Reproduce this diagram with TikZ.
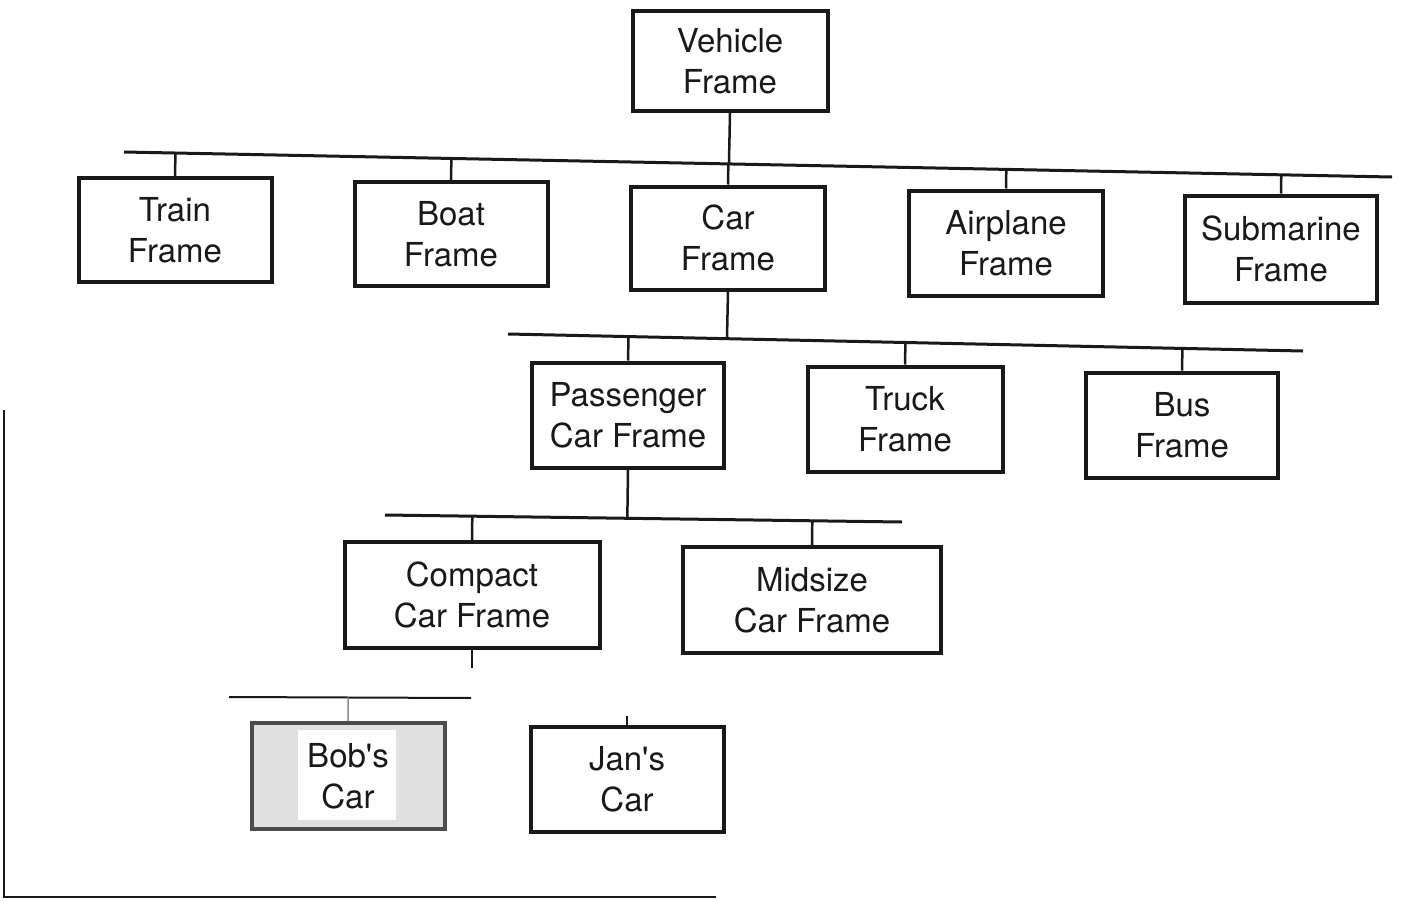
\documentclass[tikz,border=0pt]{standalone}
\usepackage{fontspec}
\setmainfont{TeX Gyre Heros}
\usetikzlibrary{calc}
\tikzset{
  box/.style={draw=black!90, line width=4pt, fill=white, align=center, inner sep=0pt,
    font=\fontsize{33}{41}\selectfont, text=black!90},
  busline/.style={draw=black!90, line width=3pt},
  stem/.style={draw=black!90, line width=2.5pt},
}
\begin{document}
\begin{tikzpicture}[x=1pt,y=-1pt]
\useasboundingbox (0,0) rectangle (1406,900);
% outer frame lines (left and bottom)
\coordinate (fl) at (4,410);
\coordinate (fc) at (4,897);
\coordinate (fr) at (716,897);
\draw[line width=2.5pt, black!90] (fl) -- (fc) -- (fr);
% bus lines
\coordinate (b1l) at (124,152); \coordinate (b1r) at (1392,177);
\coordinate (b2l) at (508,334); \coordinate (b2r) at (1303,351);
\coordinate (b3l) at (385,515); \coordinate (b3r) at (902,522);
\coordinate (b4l) at (229,697); \coordinate (b4r) at (471,698);
\draw[busline] (b1l) -- (b1r);
\draw[busline] (b2l) -- (b2r);
\draw[busline] (b3l) -- (b3r);
\draw[busline, line width=2pt] (b4l) -- (b4r);
% nodes
\node[box, minimum width=195pt, minimum height=100pt] (vehicle) at (730,61) {Vehicle\\Frame};
\node[box, minimum width=193pt, minimum height=104pt] (train) at (175,230) {Train\\Frame};
\node[box, minimum width=193pt, minimum height=104pt] (boat) at (451,234) {Boat\\Frame};
\node[box, minimum width=194pt, minimum height=103pt] (car) at (728,238) {Car\\Frame};
\node[box, minimum width=194pt, minimum height=105pt] (airplane) at (1006,243) {Airplane\\Frame};
\node[box, minimum width=192pt, minimum height=107pt] (submarine) at (1281,249) {Submarine\\Frame};
\node[box, minimum width=192pt, minimum height=105pt] (passenger) at (628,415) {Passenger\\Car Frame};
\node[box, minimum width=195pt, minimum height=105pt] (truck) at (905,419) {Truck\\Frame};
\node[box, minimum width=192pt, minimum height=105pt] (bus) at (1182,425) {Bus\\Frame};
\node[box, minimum width=255pt, minimum height=106pt] (compact) at (472,595) {Compact\\Car Frame};
\node[box, minimum width=258pt, minimum height=106pt] (midsize) at (812,600) {Midsize\\Car Frame};
\node[box, draw=black!70, fill=black!12, minimum width=193pt, minimum height=106pt] (bob) at (348,776) {};
\node[fill=white, minimum width=98pt, minimum height=90pt, inner sep=0pt] (bobtext) at (347,775)
  {};
\node[align=center, font=\fontsize{33}{41}\selectfont, text=black!90] (boblabel) at (bob.center) {Bob\textquotesingle s\\Car};
\node[box, minimum width=193pt, minimum height=105pt] (jan) at (627,779) {Jan\textquotesingle s\\Car};
% stems
\draw[stem] (vehicle.south) -- ($(b1l)!(vehicle.south)!(b1r)$);
\foreach \n in {train,boat,car,airplane,submarine}
  \draw[stem] (\n.north) -- ($(b1l)!(\n.north)!(b1r)$);
\draw[stem] (car.south) -- ($(b2l)!(car.south)!(b2r)$);
\foreach \n in {passenger,truck,bus}
  \draw[stem] (\n.north) -- ($(b2l)!(\n.north)!(b2r)$);
\draw[stem] (passenger.south) -- ($(b3l)!(passenger.south)!(b3r)$);
\foreach \n in {compact,midsize}
  \draw[stem] (\n.north) -- ($(b3l)!(\n.north)!(b3r)$);
\coordinate (cstub) at ($(compact.south)+(0,18)$);
\draw[stem] (compact.south) -- (cstub);
\draw[black!45, line width=1.5pt] (bob.north) -- ($(b4l)!(bob.north)!(b4r)$);
\coordinate (jstub) at ($(jan.north)+(0,-9)$);
\draw[stem] (jan.north) -- (jstub);
\end{tikzpicture}
\end{document}
